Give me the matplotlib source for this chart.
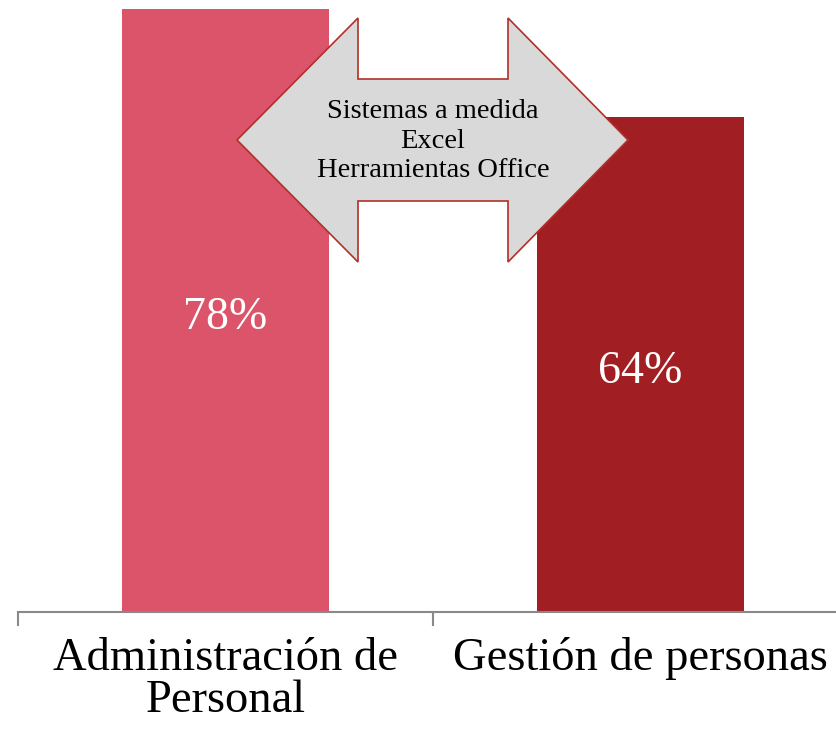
import matplotlib.pyplot as plt
from matplotlib.patches import Polygon

categories = ['Administración de\nPersonal', 'Gestión de personas']
values = [78, 64]
bar_colors = ['#DC546A', '#A11F22']
arrow_lines = ['Sistemas a medida', 'Excel', 'Herramientas Office']

W, H = 836, 730
fig = plt.figure(figsize=(W / 100, H / 100), dpi=100)
plt.rcParams['font.family'] = ['Liberation Serif', 'DejaVu Serif']

# axes: baseline at y=612 px, first category boundary at x=18 px, 415 px per category
ax = fig.add_axes([18 / W, (H - 612) / H, (W - 18) / W, 612 / H])

x = range(len(categories))
bars = ax.bar(x, values, width=0.5, color=bar_colors, zorder=1)
for b, v in zip(bars, values):
    ax.annotate(f'{v}%', (b.get_x() + b.get_width() / 2, v / 2), xytext=(0, -5),
                textcoords='offset points', ha='center', va='center',
                color='white', fontsize=33)

for s in ['top', 'right', 'left']:
    ax.spines[s].set_visible(False)
ax.spines['bottom'].set_color('#898989')
ax.spines['bottom'].set_linewidth(1.5)
ax.set_yticks([])
ax.set_xticks(list(x))
ax.set_xticklabels(categories, fontsize=33.5, linespacing=1.0)
ax.tick_params(axis='x', which='major', length=0, pad=18)
ax.set_xticks([-0.5, 0.5, 1.5], minor=True)
ax.tick_params(axis='x', which='minor', length=10, width=1.5, color='#898989')

ax.set_xlim(-0.5, -0.5 + (W - 18) / 415)
ax.set_ylim(0, 612 / 7.734)

# double arrow callout (figure pixel coords, y from top)
pts = [(237, 140), (358, 18), (358, 79), (508, 79), (508, 18), (628, 140),
       (508, 262), (508, 201), (358, 201), (358, 262)]
poly = Polygon([(px / W, 1 - py / H) for px, py in pts], closed=True,
               transform=fig.transFigure, facecolor='#D9D9D9', edgecolor='#B0302A',
               linewidth=1.2, zorder=5)
fig.patches.append(poly)
fig.text(433 / W, 1 - 141 / H, '\n'.join(arrow_lines), ha='center', va='center',
         fontsize=20.5, linespacing=1.25, zorder=6)

fig.savefig('out.png', dpi=100)
